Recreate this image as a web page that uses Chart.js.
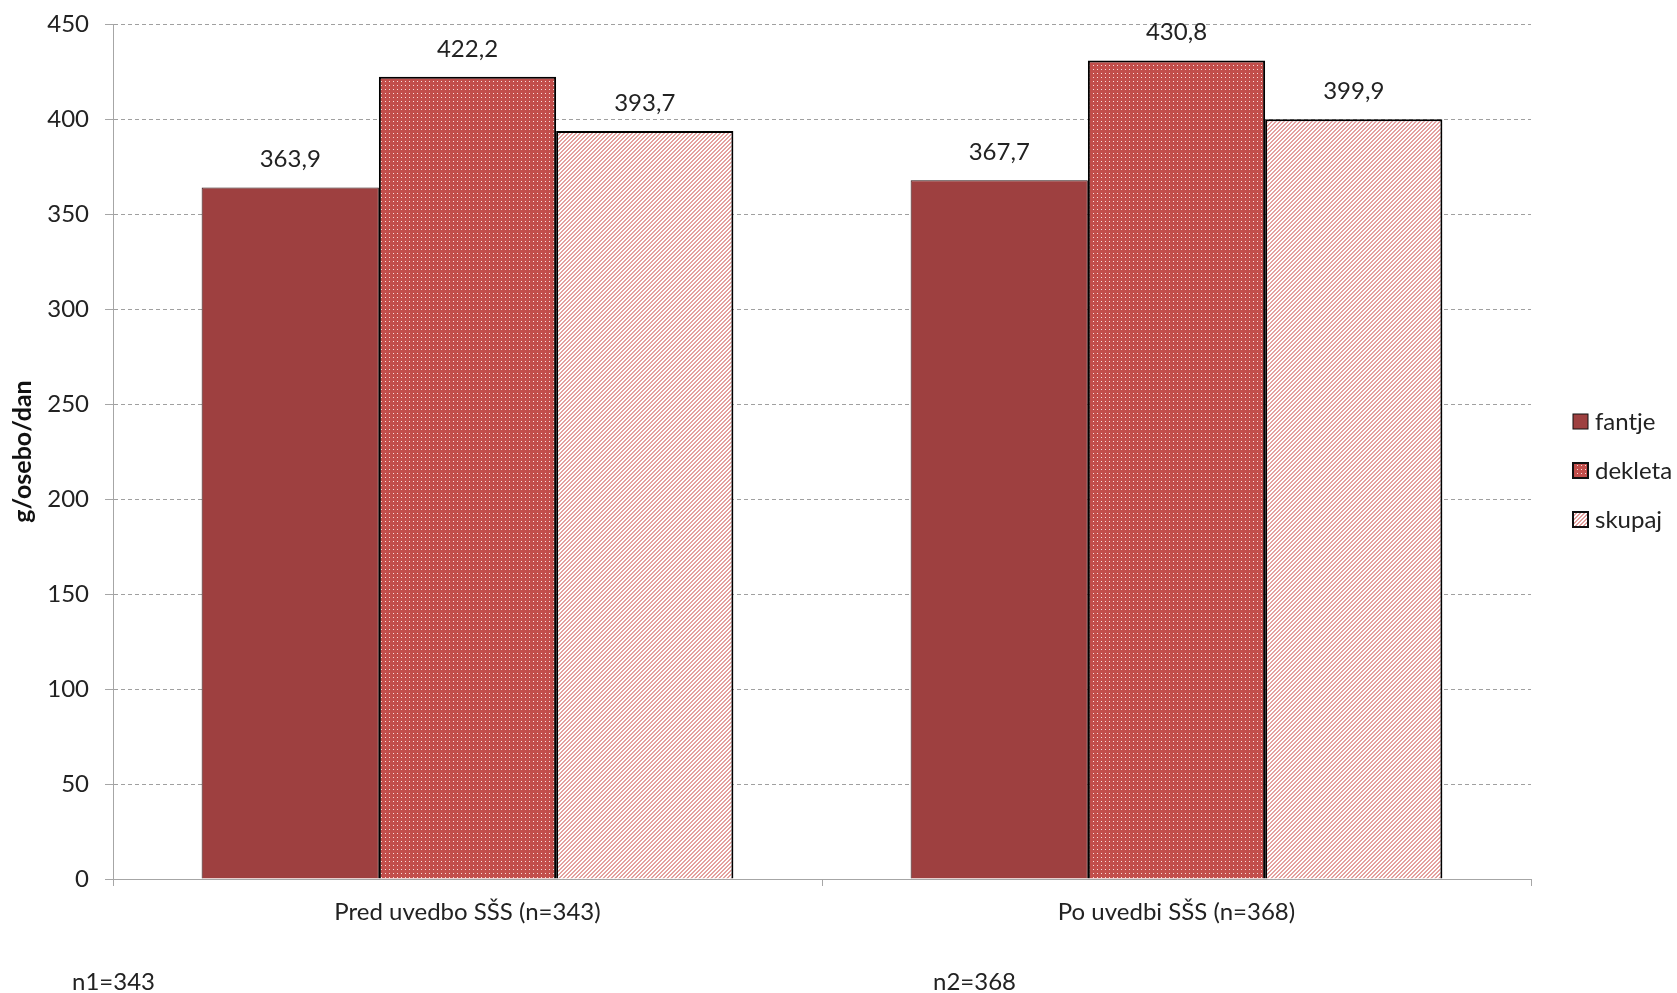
<!DOCTYPE html>
<html>
<head>
<meta charset="utf-8">
<script src="https://cdn.jsdelivr.net/npm/chart.js@4.4.0/dist/chart.umd.min.js"></script>
<style>
  html, body { margin: 0; padding: 0; background: #fff; }
  #wrap { width: 1677px; height: 993px; position: relative; }
</style>
</head>
<body>
<div id="wrap"><canvas id="myChart" width="1677" height="993"></canvas></div>
<script>
const categories = ["Pred uvedbo SŠS (n=343)", "Po uvedbi SŠS (n=368)"];
const seriesNames = ["fantje", "dekleta", "skupaj"];
const fantje = [363.9, 367.7];
const dekleta = [422.2, 430.8];
const skupaj = [393.7, 399.9];
const yTicks = [0, 50, 100, 150, 200, 250, 300, 350, 400, 450];
const footNotes = ["n1=343", "n2=368"];

const FONT = "Lato, 'Open Sans', sans-serif";

// dotted red pattern for dekleta
const makeDots = function () {
  const c = document.createElement("canvas");
  c.width = 4; c.height = 4;
  const g = c.getContext("2d");
  g.fillStyle = "#C24E4B";
  g.fillRect(0, 0, 4, 4);
  g.fillStyle = "#F8DEDC";
  g.fillRect(1, 1, 1, 1);
  return g.createPattern(c, "repeat");
};

// upward diagonal stripes for skupaj
const makeStripes = function () {
  const c = document.createElement("canvas");
  c.width = 4; c.height = 4;
  const g = c.getContext("2d");
  g.fillStyle = "#ffffff";
  g.fillRect(0, 0, 4, 4);
  g.fillStyle = "#E4A09E";
  for (let x = 0; x < 4; x++) {
    for (let y = 0; y < 4; y++) {
      if ((x + y) % 4 < 2) g.fillRect(x, y, 1, 1);
    }
  }
  return g.createPattern(c, "repeat");
};

const valueLabels = {
  id: "valueLabels",
  afterDatasetsDraw(chart) {
    const ctx = chart.ctx;
    ctx.save();
    ctx.font = "24px " + FONT;
    ctx.fillStyle = "#222";
    ctx.textAlign = "center";
    ctx.textBaseline = "middle";
    chart.data.datasets.forEach(function (ds, i) {
      const meta = chart.getDatasetMeta(i);
      meta.data.forEach(function (bar, j) {
        ctx.fillText(ds.data[j].toFixed(1).replace(".", ","), bar.x, bar.y - 28);
      });
    });
    ctx.restore();
  }
};

const sideLegend = {
  id: "sideLegend",
  afterDraw(chart) {
    const ctx = chart.ctx;
    ctx.save();
    ctx.font = "24px " + FONT;
    ctx.textBaseline = "middle";
    ctx.textAlign = "left";
    chart.data.datasets.forEach(function (ds, i) {
      const y = 422 + i * 49;
      ctx.fillStyle = ds.backgroundColor;
      ctx.fillRect(1573, y - 8, 15, 15);
      ctx.lineWidth = i == 0 ? 1 : 2;
      ctx.strokeStyle = "#111";
      ctx.strokeRect(1573, y - 8, 15, 15);
      ctx.fillStyle = "#222";
      ctx.fillText(ds.label, 1595, y);
    });
    // notes under the chart
    ctx.fillText(footNotes[0], 72, 982);
    ctx.fillText(footNotes[1], 933, 982);
    ctx.restore();
  }
};

const ctx = document.getElementById("myChart").getContext("2d");
const myChart = new Chart(ctx, {
  type: "bar",
  data: {
    labels: categories,
    datasets: [
      { label: seriesNames[0], data: fantje, backgroundColor: "#9E4040", borderColor: "#2a1010", borderWidth: 1 },
      { label: seriesNames[1], data: dekleta, backgroundColor: makeDots(), borderColor: "#000", borderWidth: 2 },
      { label: seriesNames[2], data: skupaj, backgroundColor: makeStripes(), borderColor: "#000", borderWidth: 2 }
    ]
  },
  options: {
    responsive: false,
    animation: false,
    layout: { padding: { top: 24, right: 146, bottom: 0, left: 0 } },
    plugins: { legend: { display: false }, tooltip: { enabled: false } },
    datasets: { bar: { categoryPercentage: 0.75, barPercentage: 1 } },
    scales: {
      x: {
        grid: { offset: true, drawOnChartArea: false, drawTicks: true, tickLength: 7, color: "#a6a6a6" },
        border: { color: "#a6a6a6", width: 1 },
        ticks: { font: { family: FONT, size: 24 }, color: "#222", padding: 12 },
        afterFit(scale) { scale.height = 114; }
      },
      y: {
        min: 0,
        max: 450,
        afterBuildTicks(scale) { scale.ticks = yTicks.map(function (v) { return { value: v }; }); },
        grid: { color: "#a0a0a0", tickLength: 8, tickColor: "#a6a6a6" },
        border: { color: "#a6a6a6", width: 1, dash: [4, 3] },
        ticks: { font: { family: FONT, size: 24 }, color: "#222", padding: 16 },
        title: { display: true, text: "g/osebo/dan", font: { family: FONT, size: 25, weight: "bold" }, color: "#111", padding: { top: 8, bottom: 0 } },
        afterFit(scale) {
          scale.width = 113;
          scale.paddingTop = 0;
          scale.paddingBottom = 0;
        }
      }
    }
  },
  plugins: [valueLabels, sideLegend]
});
</script>
</body>
</html>
